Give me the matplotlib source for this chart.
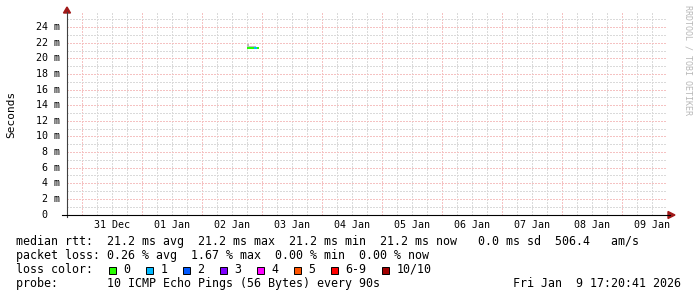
import matplotlib
matplotlib.use("Agg")
import matplotlib.pyplot as plt
from matplotlib import transforms
from matplotlib.patches import Rectangle, Polygon
from matplotlib.ticker import MultipleLocator

W, H = 697, 297
MONO = "DejaVu Sans Mono"

# time in hours since 31 Dec 00:00, one bin per graph pixel (24 min)
bin_hours = [65.9, 66.3, 66.7, 67.1, 67.5, 67.9, 68.3, 68.7, 69.1, 69.5, 69.9, 70.3]
median_ms = [21.3, 21.3, 21.3, 21.3, 21.3, 21.3, 21.3, 21.3, 21.3, 21.3, 21.3, 21.3]
smoke_lo_ms = [21.2, 21.2, 21.2, 21.2, 21.2, 21.2, 21.2, 21.2, 21.2, 21.2, 21.2, 21.2]
smoke_hi_ms = [21.9, 21.9, 21.6, 21.6, 21.6, 21.6, 21.6, 21.6, 21.6, 21.5, 21.4, 21.4]
loss_count = [0, 0, 0, 0, 0, 0, 0, 1, 1, 1, 0, 0]
bin_width_h = 0.4

day_labels = ["31 Dec", "01 Jan", "02 Jan", "03 Jan", "04 Jan",
              "05 Jan", "06 Jan", "07 Jan", "08 Jan", "09 Jan"]
ytick_values = [0, 2, 4, 6, 8, 10, 12, 14, 16, 18, 20, 22, 24]

loss_labels = ["0", "1", "2", "3", "4", "5", "6-9", "10/10"]
loss_colors = ["#26ff00", "#00b8ff", "#0059ff", "#7e00ff",
               "#ff00ff", "#ff5500", "#ff0000", "#a10000"]

stat_lines = [
    "median rtt:  21.2 ms avg  21.2 ms max  21.2 ms min  21.2 ms now   0.0 ms sd  506.4   am/s",
    "packet loss: 0.26 % avg  1.67 % max  0.00 % min  0.00 % now",
    "loss color:",
    "probe:       10 ICMP Echo Pings (56 Bytes) every 90s",
]
stamp = "Fri Jan  9 17:20:41 2026"


def fx(px):
    return px / W


def fy(py):
    return 1 - py / H


fig = plt.figure(figsize=(W / 100, H / 100), dpi=100)
fig.patch.set_facecolor("white")

x0, x1, y_bot, y_top = 67, 667, 214.5, 13
ax = fig.add_axes([fx(x0), fy(y_bot), (x1 - x0) / W, (y_bot - y_top) / H])
ax.set_xlim(-6.12, 233.88)
ax.set_ylim(0, 25.83)

ax.xaxis.set_major_locator(MultipleLocator(24))
ax.xaxis.set_minor_locator(MultipleLocator(6))
ax.yaxis.set_major_locator(MultipleLocator(2))
ax.yaxis.set_minor_locator(MultipleLocator(1))
ax.grid(which="major", color="#f5c2c2", linestyle=(0, (1, 1)), linewidth=1.0, antialiased=False)
ax.grid(which="minor", color="#dadada", linestyle=(0, (1, 1)), linewidth=1.0, antialiased=False)
ax.set_axisbelow(True)
ax.tick_params(which="both", length=0, labelbottom=False, labelleft=False)
for s in ax.spines.values():
    s.set_visible(False)

# smoke (min..max spread) and median line coloured by loss
lo_bar = [min(a, b) for a, b in zip(smoke_lo_ms, smoke_hi_ms)]
ax.bar(bin_hours, [h - l for h, l in zip(smoke_hi_ms, lo_bar)], bottom=lo_bar,
       width=bin_width_h, align="edge", color="#bdbdbd", linewidth=0, zorder=3)
for t, m, n in zip(bin_hours, median_ms, loss_count):
    col = loss_colors[n] if n <= 5 else (loss_colors[6] if n < 10 else loss_colors[7])
    ax.hlines(m, t, t + bin_width_h, colors=col, linewidth=1.44, zorder=4)

# axis labels
xt = transforms.blended_transform_factory(ax.transData, fig.transFigure)
for i, lab in enumerate(day_labels):
    ax.text(12 + 24 * i, fy(224.5), lab, transform=xt,
            ha="center", va="center", fontsize=7.2, family=MONO, color="black")
yt = transforms.blended_transform_factory(fig.transFigure, ax.transData)
for v in ytick_values:
    lab = f"{v:2d} m" if v else " 0  "
    fig.text(fx(36), v, lab, transform=yt, ha="left", va="center",
             fontsize=7.2, family=MONO, color="black")

# axes lines and arrows
fig.add_artist(plt.Line2D([fx(67), fx(67)], [fy(217), fy(12)], color="#404040", lw=0.8))
fig.add_artist(plt.Line2D([fx(62), fx(670)], [fy(214.8), fy(214.8)], color="black", lw=0.8))
fig.add_artist(Polygon([(fx(63.5), fy(13)), (fx(70.5), fy(13)), (fx(67), fy(7))],
                       closed=True, color="#a01818", transform=fig.transFigure))
fig.add_artist(Polygon([(fx(668), fy(211.5)), (fx(668), fy(218.5)), (fx(675), fy(215))],
                       closed=True, color="#a01818", transform=fig.transFigure))

fig.text(fx(11), fy(114), "Seconds", rotation=90, ha="center", va="center",
         fontsize=8, family=MONO, color="black")
fig.text(fx(688), fy(5), "RRDTOOL / TOBI OETIKER", rotation=270, ha="center", va="top",
         fontsize=6, family=MONO, color="#b8b8b8")

# legend / statistics block
line_y = [241, 255, 269.3, 283.3]
for txt, y in zip(stat_lines, line_y):
    fig.text(fx(16), fy(y), txt, ha="left", va="center", fontsize=8.4, family=MONO, color="black")
fig.text(fx(513), fy(line_y[3]), stamp, ha="left", va="center", fontsize=8.4, family=MONO, color="black")

cw = 7.03
bx = 108.7
for lab, col in zip(loss_labels, loss_colors):
    fig.add_artist(Rectangle((fx(bx), fy(273.5)), 7 / W, 7 / H, facecolor=col,
                             edgecolor="black", linewidth=0.7, transform=fig.transFigure))
    fig.text(fx(bx + 14.6), fy(line_y[2]), lab, ha="left", va="center",
             fontsize=8.4, family=MONO, color="black")
    bx = bx + 14.6 + len(lab) * cw + 15.4

fig.savefig("out.png", dpi=100, facecolor="white")
